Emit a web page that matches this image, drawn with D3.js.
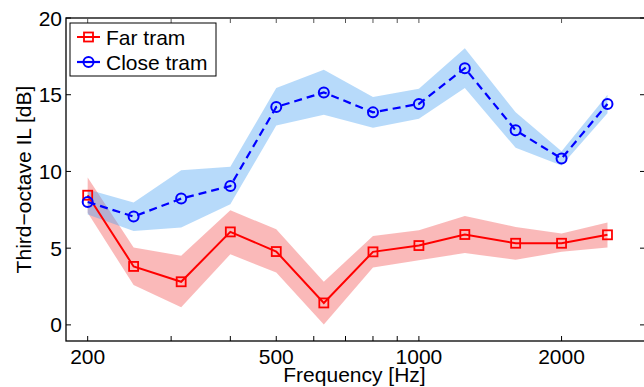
<!DOCTYPE html>
<html>
<head>
<meta charset="utf-8">
<script src="https://cdn.jsdelivr.net/npm/d3@7"></script>
<style>
  body { margin: 0; background: #fff; }
  text { font-family: "Liberation Sans", Arial, sans-serif; fill: #000; }
</style>
</head>
<body>
<div id="chart"></div>
<script>
// third-octave band centres
var freqs = [200, 250, 315, 400, 500, 630, 800, 1000, 1250, 1600, 2000, 2500];

var farTram   = [8.45, 3.81, 2.81, 6.06, 4.78, 1.43, 4.76, 5.17, 5.89, 5.32, 5.32, 5.87];
var farLow    = [7.3, 2.6, 1.15, 4.6, 3.42, 0.02, 3.74, 4.22, 4.68, 4.24, 4.76, 5.04];
var farHigh   = [9.6, 5.04, 4.5, 7.47, 6.23, 2.81, 5.8, 6.17, 7.1, 6.38, 5.95, 6.67];

var closeTram = [8.01, 7.06, 8.23, 9.05, 14.2, 15.15, 13.85, 14.4, 16.73, 12.68, 10.84, 14.4];
var closeLow  = [7.2, 6.12, 6.34, 7.86, 12.99, 13.7, 12.84, 13.44, 15.44, 11.54, 10.39, 13.8];
var closeHigh = [8.83, 7.97, 10.08, 10.3, 15.44, 16.62, 14.85, 15.39, 18.03, 13.85, 11.32, 15.0];

var xTickLabels = [200, 500, 1000, 2000];
var xMinorTicks = [200, 300, 400, 500, 600, 700, 800, 900, 1000, 2000];
var yTicks = [0, 5, 10, 15, 20];
var seriesNames = ["Far tram", "Close tram"];

var W = 644, H = 387;
var plotL = 66, plotR = 645, plotT = 18, plotB = 341;

var svg = d3.select("#chart").append("svg")
  .attr("width", W)
  .attr("height", H);

var x = d3.scaleLog().domain([180, 3000]).range([plotL, plotR]);
var y = d3.scaleLinear().domain([-1.05, 20]).range([plotB, plotT]);

function rows(vals, lo, hi) {
  return freqs.map(function(f, i) { return {f: f, v: vals[i], lo: lo[i], hi: hi[i]}; });
}
var farData = rows(farTram, farLow, farHigh);
var closeData = rows(closeTram, closeLow, closeHigh);

var area = d3.area()
  .x(function(d) { return x(d.f); })
  .y0(function(d) { return y(d.lo); })
  .y1(function(d) { return y(d.hi); });

var line = d3.line()
  .x(function(d) { return x(d.f); })
  .y(function(d) { return y(d.v); });

// bands
svg.append("path").datum(farData)
  .attr("d", area)
  .attr("fill", "rgb(242,80,80)")
  .attr("fill-opacity", 0.4);

svg.append("path").datum(closeData)
  .attr("d", area)
  .attr("fill", "rgb(75,162,242)")
  .attr("fill-opacity", 0.4);

// far tram line + squares
svg.append("path").datum(farData)
  .attr("d", line)
  .attr("fill", "none")
  .attr("stroke", "#ff0000")
  .attr("stroke-width", 2);

svg.selectAll(".sq")
  .data(farData)
  .enter().append("rect")
  .attr("class", "sq")
  .attr("x", function(d) { return x(d.f) - 4.5; })
  .attr("y", function(d) { return y(d.v) - 4.5; })
  .attr("width", 9)
  .attr("height", 9)
  .attr("fill", "none")
  .attr("stroke", "#ff0000")
  .attr("stroke-width", 1.8);

// close tram line + circles
svg.append("path").datum(closeData)
  .attr("d", line)
  .attr("fill", "none")
  .attr("stroke", "#0000ff")
  .attr("stroke-width", 2.2)
  .attr("stroke-dasharray", "8,5");

svg.selectAll(".circ")
  .data(closeData)
  .enter().append("circle")
  .attr("class", "circ")
  .attr("cx", function(d) { return x(d.f); })
  .attr("cy", function(d) { return y(d.v); })
  .attr("r", 5)
  .attr("fill", "none")
  .attr("stroke", "#0000ff")
  .attr("stroke-width", 2);

// axes box
var g = svg.append("g");
g.append("rect")
  .attr("x", plotL).attr("y", plotT)
  .attr("width", plotR - plotL).attr("height", plotB - plotT)
  .attr("fill", "none")
  .attr("stroke", "#000")
  .attr("stroke-width", 1.3);

// x ticks (inside, bottom and top)
xMinorTicks.forEach(function(f) {
  g.append("line")
    .attr("x1", x(f)).attr("x2", x(f))
    .attr("y1", plotB).attr("y2", plotB - 5)
    .attr("stroke", "#000");
  g.append("line")
    .attr("x1", x(f)).attr("x2", x(f))
    .attr("y1", plotT).attr("y2", plotT + 5)
    .attr("stroke", "#555");
});

g.selectAll(".xlab")
  .data(xTickLabels)
  .enter().append("text")
  .attr("x", function(d) { return x(d); })
  .attr("y", 364)
  .attr("text-anchor", "middle")
  .attr("font-size", 21)
  .text(function(d) { return d; });

// y ticks
yTicks.forEach(function(t) {
  g.append("line")
    .attr("x1", plotL).attr("x2", plotL + 5)
    .attr("y1", y(t)).attr("y2", y(t))
    .attr("stroke", "#000");
  g.append("line")
    .attr("x1", plotR).attr("x2", plotR - 5)
    .attr("y1", y(t)).attr("y2", y(t))
    .attr("stroke", "#000");
});

g.selectAll(".ylab")
  .data(yTicks)
  .enter().append("text")
  .attr("x", plotL - 4)
  .attr("y", function(d) { return y(d); })
  .attr("dy", "0.36em")
  .attr("text-anchor", "end")
  .attr("font-size", 21)
  .text(function(d) { return d; });

// axis titles
svg.append("text")
  .attr("x", (plotL + plotR) / 2 - 1)
  .attr("y", 382)
  .attr("text-anchor", "middle")
  .attr("font-size", 21)
  .text("Frequency [Hz]");

svg.append("text")
  .attr("transform", "translate(31," + ((plotT + plotB) / 2) + ") rotate(-90)")
  .attr("text-anchor", "middle")
  .attr("font-size", 21)
  .text("Third\u2212octave IL [dB]");

// legend
var leg = svg.append("g");
leg.append("rect")
  .attr("x", 70).attr("y", 23)
  .attr("width", 146).attr("height", 53)
  .attr("fill", "#fff")
  .attr("stroke", "#000")
  .attr("stroke-width", 1);

var legY = [37, 62];
leg.append("line")
  .attr("x1", 77).attr("x2", 100)
  .attr("y1", legY[0]).attr("y2", legY[0])
  .attr("stroke", "#ff0000").attr("stroke-width", 2);
leg.append("rect")
  .attr("x", 84).attr("y", legY[0] - 4.5)
  .attr("width", 9).attr("height", 9)
  .attr("fill", "none").attr("stroke", "#ff0000").attr("stroke-width", 1.8);

leg.append("line")
  .attr("x1", 77).attr("x2", 100)
  .attr("y1", legY[1]).attr("y2", legY[1])
  .attr("stroke", "#0000ff").attr("stroke-width", 2.2);
leg.append("circle")
  .attr("cx", 88.5).attr("cy", legY[1]).attr("r", 5)
  .attr("fill", "none").attr("stroke", "#0000ff").attr("stroke-width", 2);

leg.selectAll(".lt")
  .data(seriesNames)
  .enter().append("text")
  .attr("x", 106)
  .attr("y", function(d, i) { return legY[i]; })
  .attr("dy", "0.36em")
  .attr("font-size", 21)
  .text(function(d) { return d; });
</script>
</body>
</html>
